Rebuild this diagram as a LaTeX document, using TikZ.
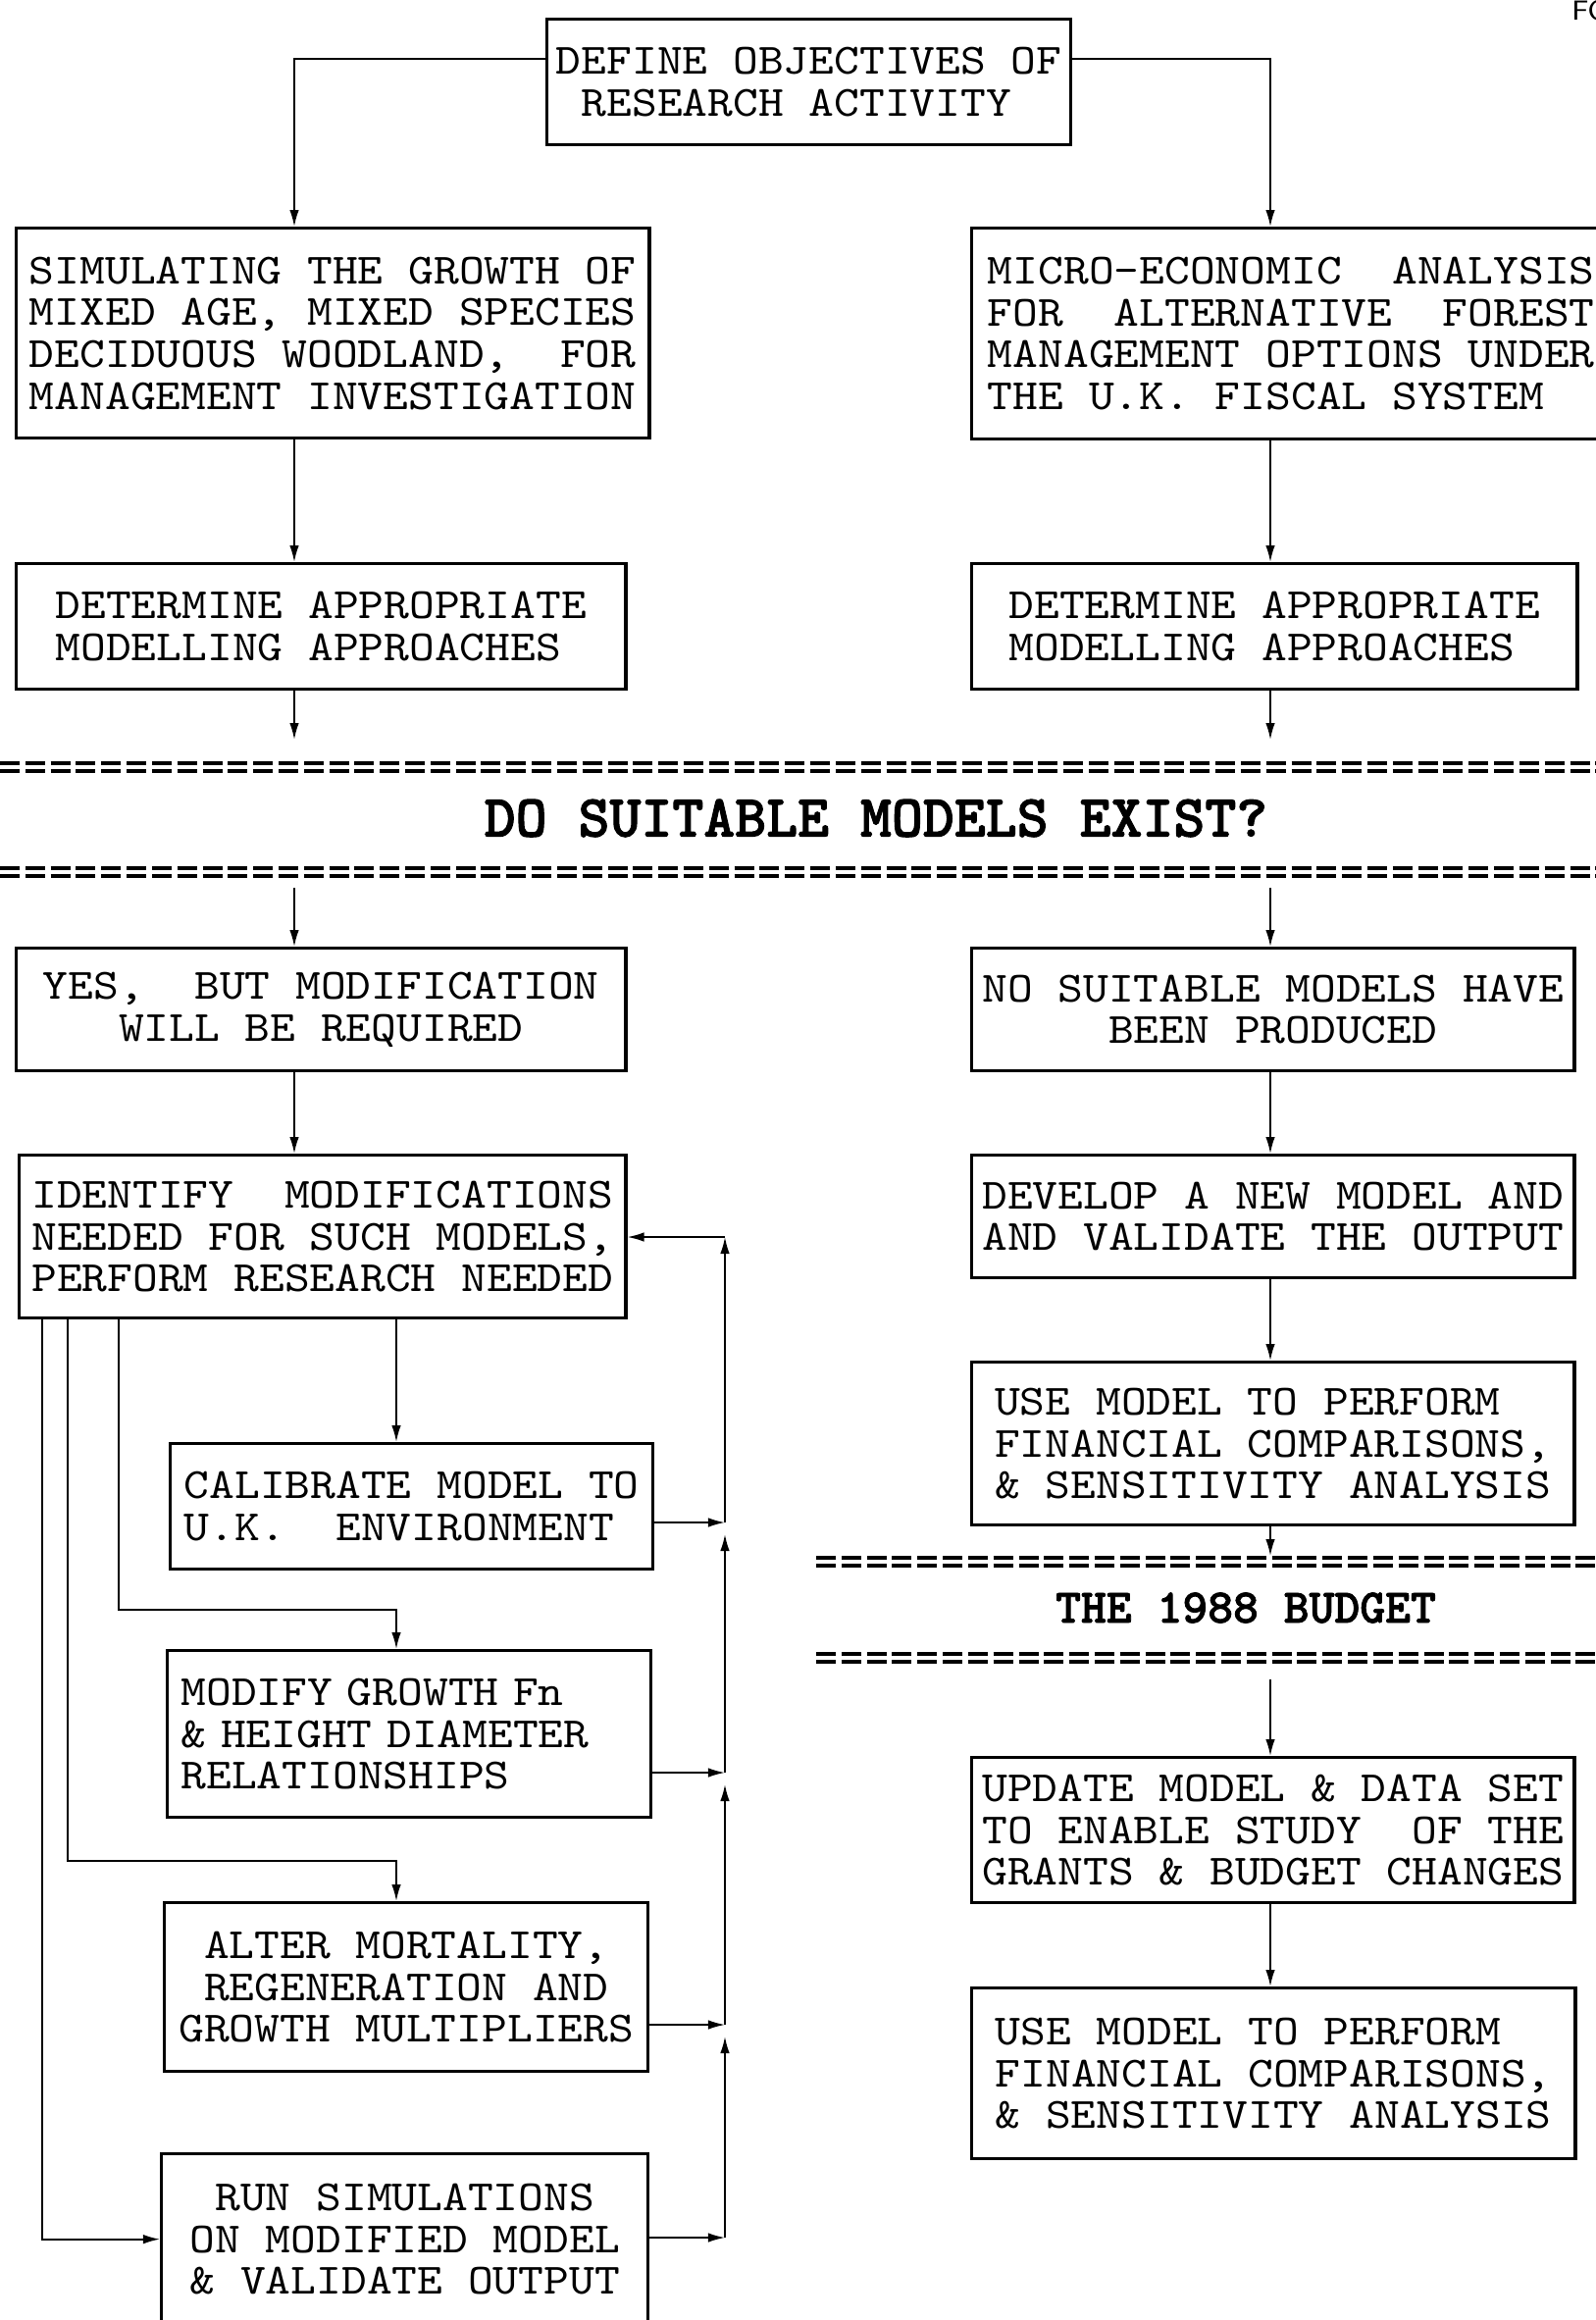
\documentclass[tikz,border=0pt]{standalone}
\usepackage{fontspec}
\usetikzlibrary{arrows.meta}
\newfontfamily\crt{lmmono10-regular.otf}[FakeStretch=1.117]
\newfontfamily\crtb{lmmonolt10-bold.otf}[FakeBold=1.6]
\newcommand*{\boxfont}{\crt\fontsize{12.5pt}{12.15pt}\selectfont\frenchspacing}
\newcommand*{\hdrfont}[1]{\crtb\fontsize{#1}{#1}\selectfont}
\newcommand*{\eqrule}[2]
  {\draw[eqline] (#1,#2) -- (1627,#2) (#1,#2+8) -- (1627,#2+8)}
\tikzset{>={Latex[length=1.7mm,width=0.95mm]}}
\tikzset{
  stage/.style={draw,line width=0.9pt,anchor=north west,inner sep=0pt,
    align=left,font=\boxfont},
  wire/.style={line width=0.5pt},
  eqline/.style={line width=0.9pt,dash pattern=on 0.2cm off 0.058cm}
}

\begin{document}
\begin{tikzpicture}[x=0.01cm,y=-0.01cm]
\useasboundingbox (0,0) rectangle (1627,2365);
\node[anchor=base west,font=\sffamily\fontsize{8}{9}\selectfont] (fig) at (1590,20) {FO};

\node[stage,minimum width=5.34cm,minimum height=1.28cm] (define) at (556,18)
  {DEFINE OBJECTIVES OF\\\hphantom{X}RESEARCH ACTIVITY};
\node[stage,minimum width=6.45cm,minimum height=2.14cm] (simul) at (15,231)
  {SIMULATING THE GROWTH OF\\MIXED AGE, MIXED SPECIES\\DECIDUOUS WOODLAND,\ \ FOR\\MANAGEMENT INVESTIGATION};
\node[stage,minimum width=6.51cm,minimum height=2.15cm] (micro) at (989,231)
  {MICRO-ECONOMIC\ \ ANALYSIS\\FOR\ \ ALTERNATIVE\ \ FOREST\\MANAGEMENT OPTIONS UNDER\\THE U.K. FISCAL SYSTEM};
\node[stage,minimum width=6.21cm,minimum height=1.28cm] (detL) at (15,573)
  {DETERMINE APPROPRIATE\\MODELLING APPROACHES};
\node[stage,minimum width=6.17cm,minimum height=1.28cm] (detR) at (989,573)
  {DETERMINE APPROPRIATE\\MODELLING APPROACHES};

\eqrule{0}{778};
\node[font={\hdrfont{17.3pt}}] (exist) at (893,834) {DO SUITABLE MODELS EXIST?};
\eqrule{0}{885};

\node[stage,align=center,minimum width=6.21cm,minimum height=1.25cm] (yes) at (15,965)
  {YES,\ \ BUT MODIFICATION\\WILL BE REQUIRED};
\node[stage,align=center,minimum width=6.14cm,minimum height=1.25cm] (none) at (989,965)
  {NO SUITABLE MODELS HAVE\\BEEN PRODUCED};
\node[stage,minimum width=6.18cm,minimum height=1.66cm] (ident) at (18,1176)
  {IDENTIFY\ \ MODIFICATIONS\\NEEDED FOR SUCH MODELS,\\PERFORM RESEARCH NEEDED};
\node[stage,minimum width=6.14cm,minimum height=1.25cm] (develop) at (989,1176)
  {DEVELOP A NEW MODEL AND\\AND VALIDATE THE OUTPUT};
\node[stage,minimum width=6.14cm,minimum height=1.66cm] (useA) at (989,1387)
  {USE MODEL TO PERFORM\\FINANCIAL COMPARISONS,\\\& SENSITIVITY ANALYSIS};

\eqrule{832}{1588};
\node[font={\hdrfont{14pt}}] (budget) at (1270,1639) {THE 1988 BUDGET};
\eqrule{832}{1686};

\node[stage,minimum width=6.14cm,minimum height=1.48cm] (update) at (989,1790)
  {UPDATE MODEL \& DATA SET\\TO ENABLE STUDY\ \ OF THE\\GRANTS \& BUDGET CHANGES};
\node[stage,minimum width=6.15cm,minimum height=1.74cm] (useB) at (989,2025)
  {USE MODEL TO PERFORM\\FINANCIAL COMPARISONS,\\\& SENSITIVITY ANALYSIS};

\node[stage,minimum width=4.92cm,minimum height=1.28cm] (calib) at (172,1470)
  {CALIBRATE MODEL TO\\U.K.\ \ ENVIRONMENT};
\node[stage,text width=4.65cm,minimum width=4.93cm,minimum height=1.70cm] (growth) at (169,1681)
  {MODIFY GROWTH Fn\\\& HEIGHT DIAMETER\\RELATIONSHIPS};
\node[stage,align=center,minimum width=4.93cm,minimum height=1.72cm] (alter) at (166,1938)
  {ALTER MORTALITY,\\REGENERATION AND\\GROWTH MULTIPLIERS};
\node[stage,align=center,minimum width=4.96cm,minimum height=1.74cm] (run) at (163,2194)
  {RUN SIMULATIONS\\ON MODIFIED MODEL\\\& VALIDATE OUTPUT};

\coordinate (colL) at (300,0);
\coordinate (colR) at (1295,0);
\coordinate (colM) at (404,0);
\coordinate (fanB) at (121,0);
\coordinate (fanC) at (69,0);
\coordinate (fanD) at (43,0);
\coordinate (inL) at (300,754);
\coordinate (inR) at (1295,754);
\coordinate (outL) at (300,905);
\coordinate (outR) at (1295,905);
\coordinate (inB) at (1295,1586);
\coordinate (outB) at (1295,1712);
\coordinate (jA) at (739,1552);
\coordinate (jB) at (739,1807);
\coordinate (jC) at (739,2064);
\coordinate (jD) at (739,2281);
\coordinate (jTop) at (739,1261);

\draw[wire,->] ([yshift=-0.42cm]define.north west) -| (simul.north -| colL);
\draw[wire,->] ([yshift=-0.42cm]define.north east) -| (micro.north -| colR);
\draw[wire,->] (simul.south -| colL) -- (detL.north -| colL);
\draw[wire,->] (micro.south -| colR) -- (detR.north -| colR);
\draw[wire,->] (detL.south -| colL) -- (inL);
\draw[wire,->] (detR.south -| colR) -- (inR);
\draw[wire,->] (outL) -- (yes.north -| colL);
\draw[wire,->] (outR) -- (none.north -| colR);
\draw[wire,->] (yes.south -| colL) -- (ident.north -| colL);
\draw[wire,->] (none.south -| colR) -- (develop.north -| colR);
\draw[wire,->] (develop.south -| colR) -- (useA.north -| colR);
\draw[wire,->] (useA.south -| colR) -- (inB);
\draw[wire,->] (outB) -- (update.north -| colR);
\draw[wire,->] (update.south -| colR) -- (useB.north -| colR);

\draw[wire,->] (ident.south -| colM) -- (calib.north -| colM);
\draw[wire,->] (ident.south -| fanB) |- ([yshift=0.4cm]growth.north -| colM) -- (growth.north -| colM);
\draw[wire,->] (ident.south -| fanC) |- ([yshift=0.41cm]alter.north -| colM) -- (alter.north -| colM);
\draw[wire,->] (ident.south -| fanD) |- (run.west);

\draw[wire,->] (calib.east |- jA) -- (jA);
\draw[wire,->] (growth.east |- jB) -- (jB);
\draw[wire,->] (alter.east |- jC) -- (jC);
\draw[wire,->] (run.east |- jD) -- (jD);
\draw[wire,->,shorten >=0.12cm] (jD) -- (jC);
\draw[wire,->,shorten >=0.12cm] (jC) -- (jB);
\draw[wire,->,shorten >=0.12cm] (jB) -- (jA);
\draw[wire,->] (jA) -- (jTop);
\draw[wire,->] (jTop) -- (ident.east |- jTop);
\end{tikzpicture}
\end{document}
